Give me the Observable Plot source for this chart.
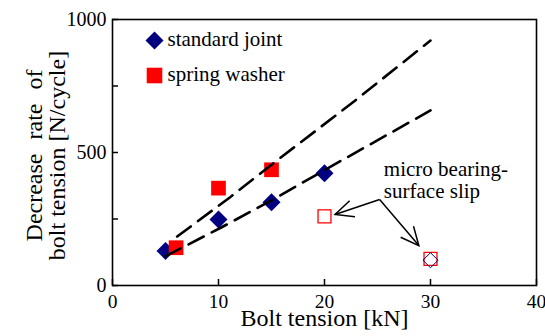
<!DOCTYPE html>
<html><head><meta charset="utf-8">
<script src="https://cdn.jsdelivr.net/npm/d3@7"></script>
<script src="https://cdn.jsdelivr.net/npm/@observablehq/plot@0.6"></script>
<style>
html,body{margin:0;padding:0;background:#fff;}
svg text{font-family:'Liberation Serif','Times New Roman',serif;}
</style>
</head><body><div id="chart"></div>
<script>
// ---- data ----
const stdX = [5, 10, 15, 20];
const stdY = [130, 248, 313, 422];
const springX = [6, 10, 15];
const springY = [142, 366, 435];
const slipStdX = [30];
const slipStdY = [95];
const slipSpringX = [20, 30];
const slipSpringY = [260, 100];
const fitSpringX = [6.1, 11.1, 16, 22.5, 30];
const fitSpringY = [184, 332, 485, 683, 921];
const fitStdX = [5, 10.3, 15, 20.5, 30];
const fitStdY = [110, 219, 320, 445, 658];
const xTicks = [0, 10, 20, 30, 40];
const yTicks = [0, 250, 500, 750, 1000];
const yTickLabels = ["0", "", "500", "", "1000"];
const seriesNames = ["standard joint", "spring washer"];
const seriesSymbols = ["diamond2", "square"];
const seriesColors = ["#000080", "#ff0000"];
const xLabel = "Bolt tension [kN]";
const yLabelLines = ["Decrease rate of", "bolt tension [N/cycle]"];
const noteText = ["micro bearing-\nsurface slip"];
const noteX = [25.6];
const noteY = [470];
const arrowFromX = [25.2, 25.2];
const arrowFromY = [323, 323];
const arrowToX = [21.0, 28.9];
const arrowToY = [267, 150];

// ---- layout ----
const W = 545, H = 336, mL = 112, mR = 9, mT = 19, mB = 51;
const xDomain = [0, 40], yDomain = [0, 1000];
const kx = (W - mL - mR) / (xDomain[1] - xDomain[0]);
const ky = (H - mT - mB) / (yDomain[1] - yDomain[0]);

const pts = (xs, ys) => xs.map((x, i) => ({x, y: ys[i]}));
const arrows = arrowFromX.map((x1, i) => {
  const x2 = arrowToX[i], y1 = arrowFromY[i], y2 = arrowToY[i];
  const dxp = (x1 - x2) * kx, dyp = -(y1 - y2) * ky;
  return {x1, y1, x2, y2, angle: Math.atan2(-dxp, dyp) * 180 / Math.PI};
});
const notes = noteText.map((t, i) => ({t, x: noteX[i], y: noteY[i]}));
const font = "'Liberation Serif', 'Times New Roman', serif";

// open "V" arrowhead; tip at the origin, wings toward +y
const openHead = {
  draw(ctx, size) {
    const L = Math.sqrt(size / Math.PI), a = 25 * Math.PI / 180;
    ctx.moveTo(L * Math.sin(a), L * Math.cos(a));
    ctx.lineTo(0, 0);
    ctx.lineTo(-L * Math.sin(a), L * Math.cos(a));
  }
};

const legendMarks = seriesNames.flatMap((name, i) => [
  Plot.dot([name], {frameAnchor: "top-left", dx: 42, dy: 21 + 35 * i, symbol: seriesSymbols[i],
    r: i === 0 ? 8.1 : 8.8, fill: seriesColors[i]}),
  Plot.text([name], {frameAnchor: "top-left", dx: 55, dy: 20 + 35 * i, text: d => d,
    textAnchor: "start", lineAnchor: "middle", fontSize: 21, fontFamily: font, fill: "#000"})
]);

const yLabelMarks = yLabelLines.map((line, i) =>
  Plot.text([line], {frameAnchor: "left", rotate: -90, dx: -78 + 22.5 * i, dy: 3, text: d => d,
    fontSize: 24, fontFamily: font, textAnchor: "middle", lineAnchor: "middle", fill: "#000"})
);

const chart = Plot.plot({
  width: W, height: H,
  marginLeft: mL, marginRight: mR, marginTop: mT, marginBottom: mB,
  style: {fontFamily: font, fontSize: "20px", color: "#000", background: "#fff"},
  x: {domain: xDomain},
  y: {domain: yDomain},
  marks: [
    Plot.frame({stroke: "#000", strokeWidth: 1.6}),
    Plot.axisX(xTicks, {tickSize: -6, tickPadding: 15, tickFormat: d => String(d), label: null, strokeWidth: 1.5, fontSize: 19.5, fontFamily: font}),
    Plot.axisY(yTicks, {tickSize: -6, tickPadding: 12, tickFormat: d => yTickLabels[yTicks.indexOf(d)], label: null, strokeWidth: 1.5, fontSize: 20, fontFamily: font}),
    Plot.text([xLabel], {frameAnchor: "bottom", dy: 32.5, text: d => d, fontSize: 24, fontFamily: font, lineAnchor: "middle", fill: "#000"}),
    ...yLabelMarks,
    Plot.dot(pts(stdX, stdY), {x: "x", y: "y", symbol: "diamond2", r: 8.1, fill: seriesColors[0]}),
    Plot.dot(pts(springX, springY), {x: "x", y: "y", symbol: "square", r: 8.3, fill: seriesColors[1]}),
    Plot.dot(pts(slipSpringX, slipSpringY), {x: "x", y: "y", symbol: "square", r: 7.3, fill: "none", stroke: seriesColors[1], strokeWidth: 1.3}),
    Plot.dot(pts(slipStdX, slipStdY), {x: "x", y: "y", symbol: "diamond2", r: 6.8, fill: "none", stroke: seriesColors[0], strokeWidth: 1}),
    Plot.line(pts(fitSpringX, fitSpringY), {x: "x", y: "y", stroke: "#000", strokeWidth: 2.6, strokeDasharray: "17,9"}),
    Plot.line(pts(fitStdX, fitStdY), {x: "x", y: "y", stroke: "#000", strokeWidth: 2.6, strokeDasharray: "17,9"}),
    Plot.link(arrows, {x1: "x1", y1: "y1", x2: "x2", y2: "y2", stroke: "#000", strokeWidth: 1.5}),
    Plot.dot(arrows, {x: "x2", y: "y2", symbol: openHead, r: 20, rotate: "angle", fill: "none", stroke: "#000", strokeWidth: 1.5}),
    Plot.text(notes, {x: "x", y: "y", text: "t", textAnchor: "start", lineAnchor: "top", fontSize: 21, fontFamily: font, lineHeight: 1.05, fill: "#000"}),
    ...legendMarks
  ]
});
// the first y-label line is set with wider word spacing in the reference
d3.select(chart).selectAll("text")
  .filter(function () { return this.textContent === yLabelLines[0]; })
  .style("word-spacing", "8px");
document.getElementById("chart").appendChild(chart);
</script>
</body></html>
